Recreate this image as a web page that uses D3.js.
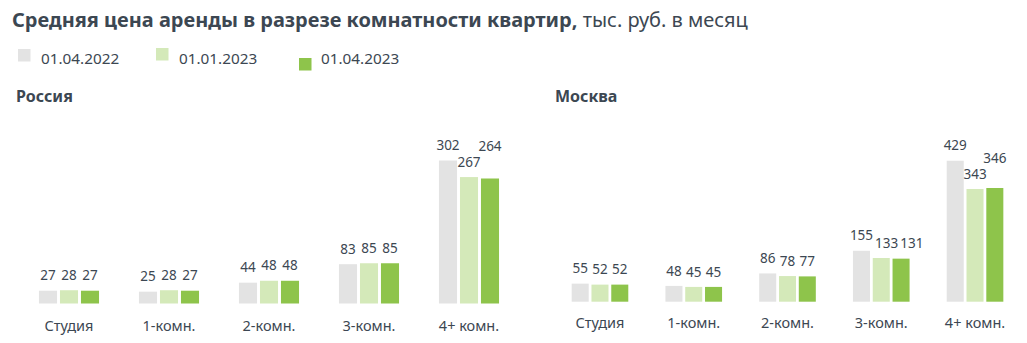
<!DOCTYPE html>
<html><head><meta charset="utf-8">
<script src="https://cdn.jsdelivr.net/npm/d3@7"></script>
<style>
html,body{margin:0;padding:0;background:#fff;}
svg{display:block;font-family:"Noto Sans","Open Sans",sans-serif;}
</style></head>
<body>
<svg id="chart" width="1027" height="343"></svg>
<script>
const categories = ["Студия", "1-комн.", "2-комн.", "3-комн.", "4+ комн."];
const seriesNames = ["01.04.2022", "01.01.2023", "01.04.2023"];
const russia2022 = [27, 25, 44, 83, 302];
const russia2023jan = [28, 28, 48, 85, 267];
const russia2023apr = [27, 27, 48, 85, 264];
const moscow2022 = [55, 48, 86, 155, 429];
const moscow2023jan = [52, 45, 78, 133, 343];
const moscow2023apr = [52, 45, 77, 131, 346];
const titleBold = "Средняя цена аренды в разрезе комнатности квартир,";
const titleRest = " тыс. руб. в месяц";
const panelTitles = ["Россия", "Москва"];

const colors = ["#e3e3e3", "#d4e9b9", "#8ec44b"];
const textColor = "#3c4752";

const svg = d3.select("#chart");

// Title (fitted to the reference width)
const title = svg.append("text").attr("x", 12).attr("y", 27).attr("fill", textColor).style("font-size", "18px");
title.append("tspan").attr("font-weight", "bold").text(titleBold);
title.append("tspan").text(titleRest);
const tw = title.node().getComputedTextLength();
title.style("font-size", (18 * 736 / tw) + "px");

// Legend
const legendPos = [{ x: 18, y: 49 }, { x: 156, y: 48 }, { x: 299, y: 58 }];
const lg = svg.append("g");
seriesNames.forEach((s, i) => {
  const p = legendPos[i];
  lg.append("rect").attr("x", p.x).attr("y", p.y).attr("width", 12.5).attr("height", 12.5).attr("fill", colors[i]);
  lg.append("text").attr("x", [41, 179, 321][i]).attr("y", 64).attr("fill", textColor).style("font-size", "15.3px").text(s);
});

function panel(opts) {
  const g = svg.append("g");
  g.append("text").attr("x", opts.titleX).attr("y", 102).attr("fill", textColor)
    .attr("font-weight", "bold").style("font-size", "16px").text(opts.title);

  const x0 = d3.scaleBand().domain(categories).range(opts.xRange).padding(0);
  const x1 = d3.scaleBand().domain(seriesNames).range([-opts.inner, opts.inner]).paddingInner(0.14).paddingOuter(0.07);
  const y = d3.scaleLinear().domain([0, opts.yMax]).range([opts.base, opts.base - opts.yMax * opts.k]);

  const rows = categories.map((c, ci) => ({ cat: c, vals: opts.series.map((arr, si) => ({ s: seriesNames[si], v: arr[ci], si })) }));

  const groups = g.selectAll("g.grp").data(rows).join("g").attr("class", "grp")
    .attr("transform", d => `translate(${x0(d.cat) + x0.bandwidth() / 2},0)`);

  groups.selectAll("rect").data(d => d.vals).join("rect")
    .attr("x", d => x1(d.s)).attr("width", x1.bandwidth())
    .attr("y", d => y(d.v)).attr("height", d => y(0) - y(d.v))
    .attr("fill", d => colors[d.si]);

  // value labels with simple collision avoidance
  groups.each(function (d) {
    const grp = d3.select(this);
    let prev = null;
    d.vals.forEach(v => {
      const cx = x1(v.s) + x1.bandwidth() / 2;
      let cy = y(v.v) - 15;
      const t = grp.append("text").attr("text-anchor", "middle").attr("fill", textColor)
        .style("font-size", "13.5px").attr("dy", "0.35em").text(v.v);
      const w = t.node().getComputedTextLength();
      let xx = cx, shifted = false;
      if (prev) {
        const ov = (prev.x + prev.w / 2) - (xx - w / 2);
        const dy = Math.abs(cy - prev.y);
        if (ov > 0 && dy < 11) {
          if (prev.shifted || dy > 4) { xx += ov + 2; shifted = true; }
          else { cy = prev.y - 16; }
        }
      }
      t.attr("x", xx).attr("y", cy);
      prev = { x: xx, y: cy, w, shifted };
    });
  });

  const axis = d3.axisBottom(x0).tickSize(0).tickPadding(opts.pad);
  const ag = g.append("g").attr("transform", `translate(0,${opts.base})`).call(axis);
  ag.select(".domain").remove();
  ag.selectAll("text").attr("fill", textColor).style("font-size", "14.5px").style("font-family", "Noto Sans, sans-serif");
}

panel({ title: panelTitles[0], titleX: 16, xRange: [19, 519], inner: 31.5, base: 303.5, k: 0.4735, yMax: 320, pad: 17.5,
  series: [russia2022, russia2023jan, russia2023apr] });
panel({ title: panelTitles[1], titleX: 555, xRange: [553.1, 1021.9], inner: 29.7, base: 301.7, k: 0.3286, yMax: 450, pad: 16,
  series: [moscow2022, moscow2023jan, moscow2023apr] });
</script>
</body></html>
